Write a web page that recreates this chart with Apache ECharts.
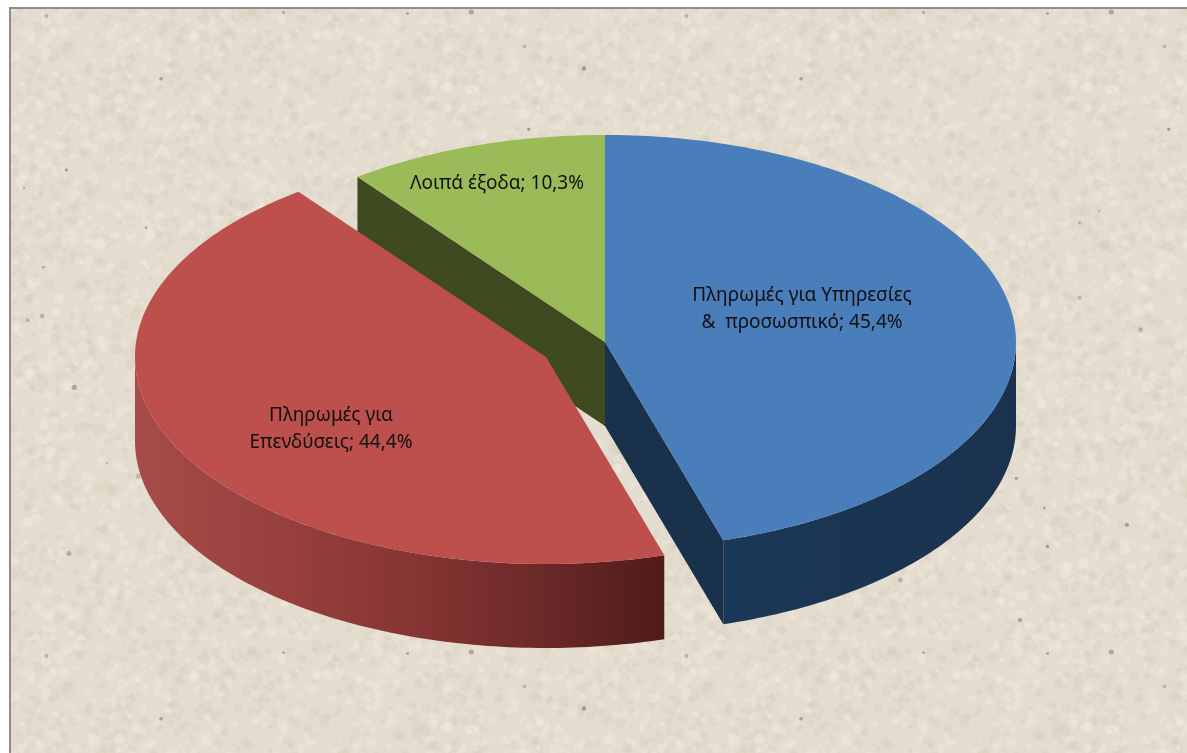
<!DOCTYPE html>
<html>
<head>
<meta charset="utf-8">
<style>
  html, body { margin: 0; padding: 0; background: #fff; }
  #main { width: 1187px; height: 753px; }
</style>
<script src="https://cdn.jsdelivr.net/npm/echarts@6/dist/echarts.min.js"></script>
</head>
<body>
<div id="main"></div>
<script>
// data
var categories = ['Πληρωμές για Υπηρεσίες\n&  προσωσπικό', 'Πληρωμές για\nΕπενδύσεις', 'Λοιπά έξοδα'];
var values = [45.4, 44.4, 10.3];
var valueLabels = ['45,4%', '44,4%', '10,3%'];

// pie geometry (ellipse seen from above, depth = height of the side wall)
var CX = 605, CY = 342, RX = 411, RY = 207, DEPTH = 84;
var explode = [[0, 0], [-59, 15], [0, 0]];
var topColors = ['#4a7ebb', '#bd4f4c', '#9bbb59'];
var labelPos = [[802, 309], [331, 429], [497, 184]];

var total = 0;
for (var i = 0; i < values.length; i++) total += values[i];

// clockwise from 12 o'clock, degrees
function pt(deg, ox, oy, down) {
    var a = deg * Math.PI / 180;
    return [CX + ox + RX * Math.sin(a), CY + oy - RY * Math.cos(a) + (down || 0)];
}
function arc(from, to, ox, oy, down) {
    var pts = [], n = Math.max(2, Math.ceil(Math.abs(to - from)));
    for (var i = 0; i <= n; i++) pts.push(pt(from + (to - from) * i / n, ox, oy, down));
    return pts;
}
function wall(from, to, ox, oy) {
    return arc(from, to, ox, oy, 0).concat(arc(to, from, ox, oy, DEPTH));
}
function cutFace(deg, ox, oy) {
    var c = [CX + ox, CY + oy], p = pt(deg, ox, oy, 0);
    return [c, p, [p[0], p[1] + DEPTH], [c[0], c[1] + DEPTH]];
}
function poly(points, fill, z2) {
    return { type: 'polygon', shape: { points: points }, style: { fill: fill }, z2: z2, silent: true };
}
function hGrad(stops) {
    return new echarts.graphic.LinearGradient(0, 0, 1, 0, stops);
}

function renderSlice(params, api) {
    var idx = params.dataIndex, start = 0;
    for (var i = 0; i < idx; i++) start += values[i];
    var a0 = start / total * 360, a1 = (start + api.value(0)) / total * 360;
    var ox = explode[idx][0], oy = explode[idx][1];
    var kids = [];

    if (idx === 0) {
        kids.push(poly(cutFace(a1, ox, oy), '#1a314c', 1));
        kids.push(poly(wall(90, a1, ox, oy), hGrad([
            { offset: 0, color: '#1a3857' }, { offset: 1, color: '#1a324e' }
        ]), 1));
    } else if (idx === 1) {
        kids.push(poly(wall(a0, 270, ox, oy), hGrad([
            { offset: 0, color: '#a64c49' }, { offset: 0.3, color: '#963f3d' },
            { offset: 0.55, color: '#843432' }, { offset: 0.75, color: '#6d2a29' },
            { offset: 1, color: '#4f1c1a' }
        ]), 1));
    } else {
        kids.push(poly(cutFace(a0, ox, oy), '#3f4a20', 1));
    }
    var top = [[CX + ox, CY + oy]].concat(arc(a0, a1, ox, oy, 0));
    kids.push(poly(top, topColors[idx], 5));

    var lines = categories[idx] + '; ' + valueLabels[idx];
    kids.push({
        type: 'text', z2: 10, silent: true,
        style: {
            x: labelPos[idx][0], y: labelPos[idx][1], text: lines,
            fill: '#111', font: '19px "Noto Sans"', lineHeight: 27,
            align: 'center', verticalAlign: 'middle'
        }
    });
    return { type: 'group', children: kids };
}

// paper texture tile
function paperTile() {
    var size = 640, c = document.createElement('canvas');
    c.width = c.height = size;
    var g = c.getContext('2d'), seed = 12345;
    function next() { seed = (seed * 16807) % 2147483647; return seed / 2147483647; }
    g.fillStyle = '#e4ddcf';
    g.fillRect(0, 0, size, size);
    for (var i = 0; i < 5200; i++) {
        g.fillStyle = next() > 0.5 ? 'rgba(243,238,228,0.28)' : 'rgba(207,198,181,0.2)';
        g.beginPath();
        g.arc(next() * size, next() * size, 1.5 + next() * 4, 0, 7);
        g.fill();
    }
    for (var j = 0; j < 36; j++) {
        g.fillStyle = 'rgba(120,110,95,' + (0.3 + next() * 0.35) + ')';
        g.beginPath();
        g.arc(next() * size, next() * size, 1.2 + next() * 1.6, 0, 7);
        g.fill();
    }
    return c;
}

var chart = echarts.init(document.getElementById('main'), null, { renderer: 'canvas' });
chart.setOption({
    animation: false,
    backgroundColor: '#fff',
    graphic: [{
        type: 'rect', z: 0, silent: true,
        shape: { x: 10, y: 8, width: 1190, height: 760 },
        style: { fill: { image: paperTile(), repeat: 'repeat' }, stroke: '#8c8c8c', lineWidth: 2 }
    }],
    series: [{
        type: 'custom',
        coordinateSystem: 'none',
        renderItem: renderSlice,
        data: values.map(function (v, i) { return { name: categories[i], value: [v] }; })
    }]
});
</script>
</body>
</html>
